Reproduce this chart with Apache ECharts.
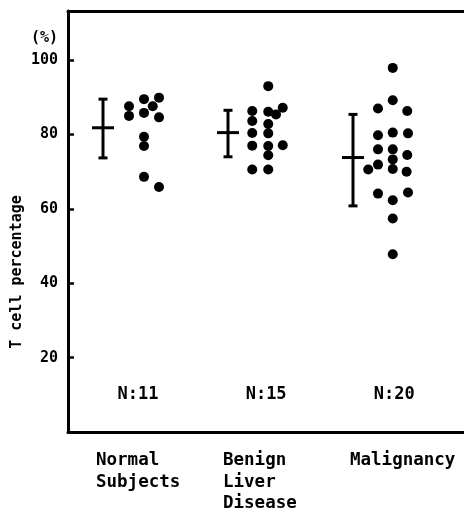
<!DOCTYPE html>
<html><head><meta charset="utf-8">
<script src="https://cdn.jsdelivr.net/npm/echarts@6/dist/echarts.min.js"></script>
<style>html,body{margin:0;padding:0;background:#fff}#c{width:464px;height:509px}</style>
</head><body><div id="c"></div>
<script>
// Groups
var categories = ['Normal\nSubjects', 'Benign\nLiver\nDisease', 'Malignancy'];
var nLabels = ['N:11', 'N:15', 'N:20'];
// T cell percentage values per group and horizontal column offset (fraction of group spacing)
var normalValues  = [87.6, 85.0, 89.5, 87.6, 89.9, 85.8, 84.6, 79.4, 76.9, 68.6, 65.9];
var normalOffsets = [0.208,0.208,0.328,0.398,0.448,0.328,0.448,0.328,0.328,0.328,0.448];
var benignValues  = [93.0, 86.3, 86.1, 85.4, 87.2, 83.6, 82.8, 80.4, 80.3, 77.0, 76.9, 77.1, 74.4, 70.6, 70.6];
var benignOffsets = [0.322,0.194,0.322,0.384,0.438,0.194,0.322,0.194,0.322,0.194,0.322,0.438,0.322,0.194,0.322];
var maligValues   = [97.9, 89.2, 87.0, 86.3, 79.8, 80.5, 80.3, 76.0, 76.0, 74.5, 73.3, 71.9, 70.6, 70.7, 70.0, 64.1, 64.4, 62.3, 57.4, 47.8];
var maligOffsets  = [0.318,0.318,0.2,0.434,0.2,0.318,0.44,0.2,0.318,0.434,0.318,0.2,0.122,0.318,0.429,0.2,0.44,0.318,0.318,0.318];
// mean +/- SD
var means = [81.8, 80.5, 73.8];
var lows  = [73.7, 74.0, 60.8];
var highs = [89.5, 86.5, 85.4];
var yTicks = [20, 40, 60, 80, 100];

var groupsV = [normalValues, benignValues, maligValues];
var groupsO = [normalOffsets, benignOffsets, maligOffsets];
var dots = [];
groupsV.forEach(function (vals, g) {
  vals.forEach(function (v, i) { dots.push([g + groupsO[g][i], v]); });
});
var bars = means.map(function (m, g) { return [g, m, lows[g], highs[g]]; });
var nData = nLabels.map(function (t, g) { return { value: [g + 0.28 + 0.025 * g, 10.1], label: t }; });

var FONT = 'DejaVu Sans Mono';
var AX = { show: true, onZero: false, lineStyle: { color: '#000', width: 3 } };
var chart = echarts.init(document.getElementById('c'));
chart.setOption({
  animation: false,
  backgroundColor: '#fff',
  grid: { left: 68, top: 11, right: 0, bottom: 77 },
  xAxis: [
    { type: 'value', min: -0.28, max: 2.888, position: 'bottom', axisLine: AX,
      axisTick: { show: false }, axisLabel: { show: false }, splitLine: { show: false } },
    { type: 'value', min: -0.28, max: 2.888, position: 'top', axisLine: AX,
      axisTick: { show: false }, axisLabel: { show: false }, splitLine: { show: false } }
  ],
  yAxis: {
    type: 'value', min: 0, max: 113.2, interval: 20,
    axisLine: AX,
    splitLine: { show: false },
    axisTick: { show: true, inside: true, length: 6, lineStyle: { color: '#000', width: 2.5 } },
    axisLabel: { margin: 10, color: '#000', fontFamily: FONT, fontWeight: 'bold', fontSize: 15,
      formatter: function (v) { return yTicks.indexOf(v) >= 0 ? String(v) : ''; } }
  },
  series: [
    { type: 'scatter', data: dots, symbol: 'circle', symbolSize: 10, itemStyle: { color: '#000', opacity: 1 }, silent: true },
    { type: 'custom', data: bars, silent: true,
      renderItem: function (params, api) {
        var c = api.coord([api.value(0), api.value(1)]);
        var lo = api.coord([api.value(0), api.value(2)]);
        var hi = api.coord([api.value(0), api.value(3)]);
        var st = { stroke: '#000', lineWidth: 3 };
        return { type: 'group', children: [
          { type: 'line', shape: { x1: c[0], y1: hi[1], x2: c[0], y2: lo[1] }, style: st },
          { type: 'line', shape: { x1: c[0] - 4.5, y1: hi[1], x2: c[0] + 4.5, y2: hi[1] }, style: st },
          { type: 'line', shape: { x1: c[0] - 4.5, y1: lo[1], x2: c[0] + 4.5, y2: lo[1] }, style: st },
          { type: 'line', shape: { x1: c[0] - 11, y1: c[1], x2: c[0] + 11, y2: c[1] }, style: st }
        ]};
      } },
    { type: 'scatter', symbolSize: 0, silent: true, itemStyle: { opacity: 1, color: '#000' },
      data: nData.map(function (d) { return { value: d.value, label: { show: true, formatter: d.label } }; }),
      label: { show: true, position: 'inside', color: '#000', opacity: 1, fontFamily: FONT, fontWeight: 'bold', fontSize: 17 } }
  ],
  graphic: [
    { type: 'text', left: 31, top: 31, style: { text: '(%)', fill: '#000', font: 'bold 15px "DejaVu Sans Mono"' } },
    { type: 'text', x: 17, y: 272, rotation: Math.PI / 2,
      style: { text: 'T cell percentage', fill: '#000', font: 'bold 15px "DejaVu Sans Mono"', align: 'center', verticalAlign: 'middle' } },
    { type: 'text', left: 96, top: 450, style: { text: categories[0], fill: '#000', font: 'bold 17.5px "DejaVu Sans Mono"', lineHeight: 21.5 } },
    { type: 'text', left: 223, top: 450, style: { text: categories[1], fill: '#000', font: 'bold 17.5px "DejaVu Sans Mono"', lineHeight: 21.5 } },
    { type: 'text', left: 350, top: 450, style: { text: categories[2], fill: '#000', font: 'bold 17.5px "DejaVu Sans Mono"', lineHeight: 21.5 } }
  ]
});
</script></body></html>
